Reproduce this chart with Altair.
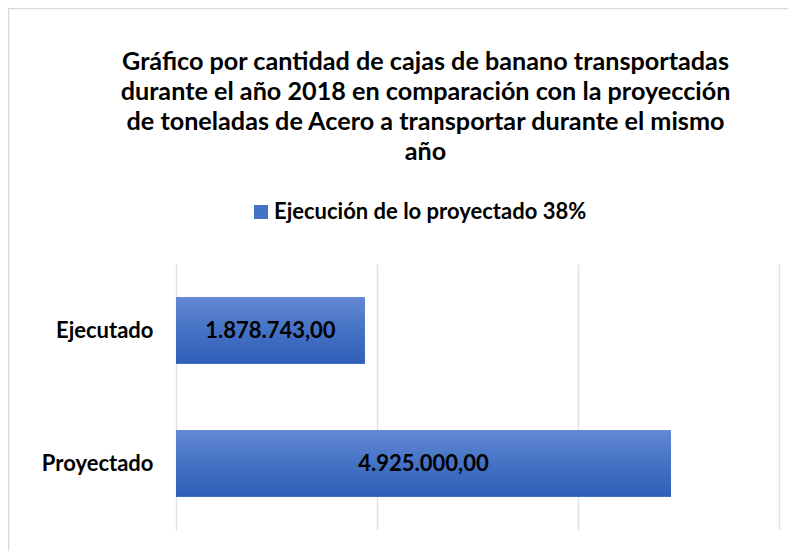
import altair as alt
import pandas as pd

categorias = ["Ejecutado", "Proyectado"]
valores = [1878743.00, 4925000.00]
serie = "Ejecución de lo proyectado 38%"
titulo = [
    "Gráfico por cantidad de cajas de banano transportadas",
    "durante el año 2018 en comparación con la proyección",
    "de toneladas de Acero a transportar durante el mismo",
    "año",
]
marcas_x = [0, 2000000, 4000000, 6000000]

df = pd.DataFrame({"cat": categorias, "valor": valores, "serie": [serie] * len(categorias)})

FONT = "Lato"

y_enc = alt.Y(
    "cat:N",
    sort=categorias,
    title=None,
    scale=alt.Scale(paddingInner=0.5, paddingOuter=0.25),
    axis=alt.Axis(
        domain=False, ticks=False, labelFont=FONT, labelFontSize=22,
        labelFontWeight="bold", labelColor="#000000", labelPadding=23,
    ),
)
x_enc = alt.X(
    "valor:Q",
    title=None,
    scale=alt.Scale(domain=[0, 6000000], nice=False),
    axis=alt.Axis(
        values=marcas_x, labels=False, ticks=False, domain=False,
        grid=True, gridColor="#DEE2EA", gridWidth=1.5,
    ),
)

base = alt.Chart(df)

legend_bars = base.mark_bar().encode(
    x=x_enc,
    y=y_enc,
    color=alt.Color(
        "serie:N",
        scale=alt.Scale(domain=[serie], range=["#4472C4"]),
        legend=alt.Legend(
            title=None, orient="none", legendX=74, legendY=-63,
            symbolType="square", symbolSize=196, symbolStrokeWidth=0,
            labelFont=FONT, labelFontSize=22, labelFontWeight="bold",
            labelColor="#000000", labelOffset=2, padding=0, labelLimit=500,
        ),
    ),
)

grad = alt.Gradient(
    gradient="linear",
    stops=[
        alt.GradientStop(color="#6489D4", offset=0),
        alt.GradientStop(color="#4472C4", offset=0.5),
        alt.GradientStop(color="#2F5EB8", offset=1),
    ],
    x1=0, x2=0, y1=0, y2=1,
)

grad_bars = base.mark_bar(color=grad).encode(x=x_enc, y=y_enc)

labels = base.transform_calculate(mid="datum.valor / 2").mark_text(
    font=FONT, fontSize=22, fontWeight="bold", color="#000000",
    align="center", baseline="middle",
).encode(
    x=alt.X("mid:Q"),
    y=alt.Y("cat:N", sort=categorias),
    text=alt.Text("valor:Q", format=",.2f"),
)

marco = alt.Data(values=[{"k": 0}])
borde_sup = alt.Chart(marco).mark_rule(color="#D9D9D9", strokeWidth=1.5).encode(
    x=alt.value(-168), x2=alt.value(640), y=alt.value(-255.5)
)
borde_izq = alt.Chart(marco).mark_rule(color="#D9D9D9", strokeWidth=1.5).encode(
    x=alt.value(-167.5), y=alt.value(-256), y2=alt.value(300)
)

chart = alt.layer(borde_sup, borde_izq, legend_bars, grad_bars, labels).properties(
    width=603,
    height=266,
    autosize=alt.AutoSizeParams(type="none"),
    padding={"left": 168, "top": 256, "right": 9, "bottom": 21},
    title=alt.TitleParams(
        text=titulo, font=FONT, fontSize=25.2, fontWeight="bold", color="#000000",
        anchor="middle", dx=-52, dy=203, lineHeight=30, offset=45,
    ),
).configure(
    locale={"number": {"decimal": ",", "thousands": ".", "grouping": [3], "currency": ["", ""]}},
).configure_view(stroke=None)

chart.save("out.html", embed_options={"renderer": "svg", "actions": False})
